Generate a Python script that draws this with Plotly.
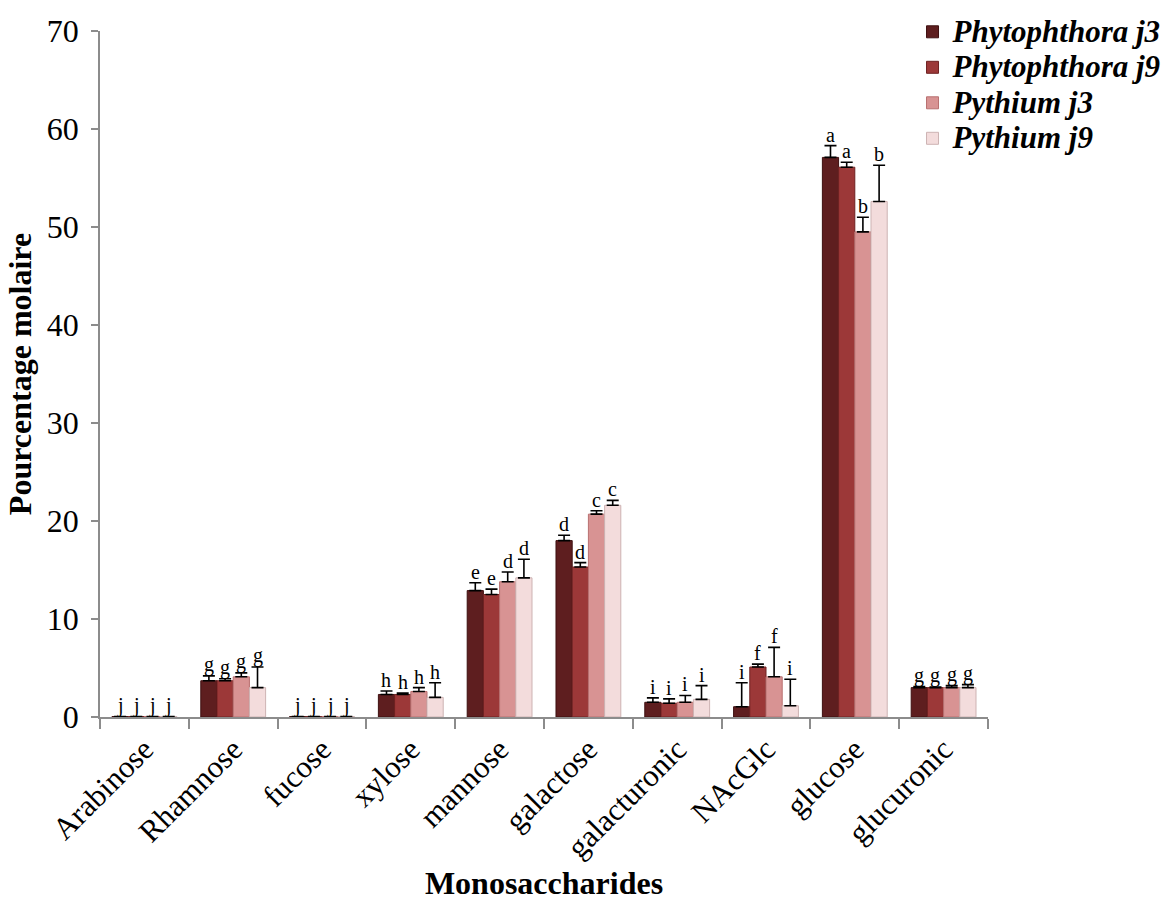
import plotly.graph_objects as go

# Monosaccharide composition (mol %) of cell walls
categories = ["Arabinose", "Rhamnose", "fucose", "xylose", "mannose",
              "galactose", "galacturonic", "NAcGlc", "glucose", "glucuronic"]

series_names = ["Phytophthora j3", "Phytophthora j9", "Pythium j3", "Pythium j9"]

phyto_j3 = [0.05, 3.7, 0.05, 2.3, 12.9, 18.0, 1.5, 1.05, 57.1, 3.0]
phyto_j9 = [0.05, 3.7, 0.05, 2.3, 12.5, 15.3, 1.4, 5.1, 56.1, 3.0]
pyth_j3 = [0.05, 4.1, 0.05, 2.6, 13.8, 20.7, 1.5, 4.1, 49.5, 3.0]
pyth_j9 = [0.05, 3.0, 0.05, 2.0, 14.2, 21.6, 1.8, 1.15, 52.6, 3.0]

phyto_j3_err = [0, 0.5, 0, 0.35, 0.8, 0.55, 0.45, 2.45, 1.2, 0.1]
phyto_j9_err = [0, 0.2, 0, 0.15, 0.55, 0.45, 0.45, 0.3, 0.5, 0.05]
pyth_j3_err = [0, 0.4, 0, 0.4, 1.0, 0.35, 0.7, 3.0, 1.5, 0.2]
pyth_j9_err = [0, 2.1, 0, 1.5, 1.9, 0.5, 1.4, 2.7, 3.7, 0.3]

# Statistical group letters
phyto_j3_lbl = ["j", "g", "j", "h", "e", "d", "i", "i", "a", "g"]
phyto_j9_lbl = ["j", "g", "j", "h", "e", "d", "i", "f", "a", "g"]
pyth_j3_lbl = ["j", "g", "j", "h", "d", "c", "i", "f", "b", "g"]
pyth_j9_lbl = ["j", "g", "j", "h", "d", "c", "i", "i", "b", "g"]

values = [phyto_j3, phyto_j9, pyth_j3, pyth_j9]
errors = [phyto_j3_err, phyto_j9_err, pyth_j3_err, pyth_j9_err]
letters = [phyto_j3_lbl, phyto_j9_lbl, pyth_j3_lbl, pyth_j9_lbl]

fills = ["#5e1e1f", "#9c3838", "#d89393", "#f3dcdc"]
edges = ["#3e1011", "#6e2222", "#b87070", "#cdb3b3"]

FONT = "Liberation Serif, Times New Roman, serif"

fig = go.Figure()
for name, v, e, fc, ec in zip(series_names, values, errors, fills, edges):
    fig.add_trace(go.Bar(
        # larger glyphs than the legend row height, so entries sit close together
        name=f"<span style='font-size:31px'>{name}</span>",
        x=categories, y=v,
        marker=dict(color=fc, line=dict(color=ec, width=1)),
        error_y=dict(type="data", symmetric=False, array=e,
                     arrayminus=[0] * len(e), color="black",
                     thickness=1.6, width=6),
    ))

bargap = 0.27
plot_w = 1162 - 100 - 174
bar_px = plot_w / len(categories) * (1 - bargap) / len(series_names)

annotations = []
for k, (v, e, lab) in enumerate(zip(values, errors, letters)):
    for i, cat in enumerate(categories):
        annotations.append(dict(
            x=cat, y=v[i] + e[i], xref="x", yref="y", text=lab[i],
            showarrow=False, yanchor="bottom",
            xshift=(k - 1.5) * bar_px, yshift=-2,
            font=dict(family=FONT, size=20, color="black"),
        ))

fig.update_layout(
    width=1162, height=913,
    margin=dict(l=100, r=174, t=31, b=196, autoexpand=False),
    paper_bgcolor="white", plot_bgcolor="white",
    barmode="group", bargap=bargap, bargroupgap=0,
    font=dict(family=FONT, color="black"),
    annotations=annotations,
    legend=dict(
        x=0.915, y=1.032, xanchor="left", yanchor="top",
        font=dict(family=FONT, size=25, color="black", weight="bold", style="italic"),
        bgcolor="rgba(0,0,0,0)", tracegroupgap=0, itemwidth=30,
    ),
    xaxis=dict(
        showline=True, linecolor="#8c8c8c", linewidth=1.5,
        ticks="outside", tickson="boundaries", ticklen=10, tickcolor="#8c8c8c",
        tickwidth=1.5, tickangle=-45,
        tickfont=dict(family=FONT, size=31, color="black"),
        title=dict(text="Monosaccharides", standoff=8,
                   font=dict(family=FONT, size=32, color="black", weight="bold")),
        showgrid=False,
    ),
    yaxis=dict(
        range=[0, 70], dtick=10,
        showline=True, linecolor="#8c8c8c", linewidth=1.5,
        ticks="outside", ticklen=7, tickcolor="#8c8c8c", tickwidth=1.5,
        ticklabelstandoff=6,
        tickfont=dict(family=FONT, size=32, color="black"),
        title=dict(text="Pourcentage molaire", standoff=6,
                   font=dict(family=FONT, size=32, color="black", weight="bold")),
        showgrid=False, zeroline=False,
    ),
)

fig.write_html("out.html")
